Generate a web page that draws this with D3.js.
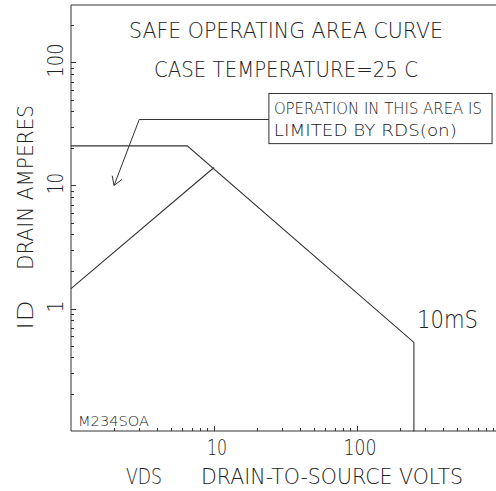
<!DOCTYPE html>
<html>
<head>
<meta charset="utf-8">
<script src="https://cdn.jsdelivr.net/npm/d3@7"></script>
<style>
  body { margin: 0; background: #fff; }
  svg text { font-family: "DejaVu Sans", sans-serif; font-weight: 200; fill: #222; }
</style>
</head>
<body>
<svg id="chart"></svg>
<script>
// SOA boundary (volts, amperes)
const soaVolts = [1, 6.5, 250, 250];
const soaAmps = [21, 21, 0.53, 0.1];
// RDS(on) limit line
const rdsVolts = [1, 10];
const rdsAmps = [1.45, 14];
// annotation leader arrow and box
const leaderVolts = [24.2, 3, 2];
const leaderAmps = [34.4, 34.4, 10];
const boxVolts = [24.2, 880];
const boxAmps = [56, 21.9];
const noteLines = ["OPERATION IN THIS AREA IS", "LIMITED BY RDS(on)"];
const xTickLabels = [10, 100];
const yTickLabels = [1, 10, 100];

const width = 496, height = 491;
const svg = d3.select("#chart").attr("width", width).attr("height", height);

const x = d3.scaleLog().domain([1, 1000]).range([71, 500]);
const y = d3.scaleLog().domain([0.1, 300]).range([431.5, 431.5 - 123 * Math.log10(3000)]);

const ink = "#333";

// frame: left, top, bottom
svg.append("line").attr("x1", 71).attr("x2", 71).attr("y1", 5).attr("y2", 431).attr("stroke", ink);
svg.append("line").attr("x1", 71).attr("x2", width).attr("y1", 5).attr("y2", 5).attr("stroke", ink);
svg.append("line").attr("x1", 71).attr("x2", width).attr("y1", 431).attr("y2", 431).attr("stroke", ink);

// minor / major ticks pointing inward
const xTicks = [];
[1, 10, 100].forEach(d => { for (let k = 1; k <= 9; k++) xTicks.push(d * k); });
svg.selectAll(".xtick").data(xTicks.filter(v => v > 1 && v < 1000)).enter()
  .append("line").attr("class", "xtick")
  .attr("x1", d => Math.round(x(d)) + 0.5).attr("x2", d => Math.round(x(d)) + 0.5)
  .attr("y1", 431).attr("y2", d => xTickLabels.includes(d) ? 426 : 428)
  .attr("stroke", ink);

const yTicks = [];
[0.1, 1, 10, 100].forEach(d => { for (let k = 1; k <= 9; k++) yTicks.push(+(d * k).toPrecision(3)); });
svg.selectAll(".ytick").data(yTicks.filter(v => v > 0.1 && v < 300)).enter()
  .append("line").attr("class", "ytick")
  .attr("y1", d => Math.round(y(d)) + 0.5).attr("y2", d => Math.round(y(d)) + 0.5)
  .attr("x1", 71).attr("x2", d => yTickLabels.includes(d) ? 76 : 74)
  .attr("stroke", ink);

// tick labels
const xLabelWidth = { 10: 20, 100: 33 };
svg.selectAll(".xlab").data(xTickLabels).enter()
  .append("text").attr("class", "xlab")
  .attr("x", d => x(d) + 3 - xLabelWidth[d] / 2).attr("y", 455)
  .attr("font-size", 21)
  .attr("textLength", d => xLabelWidth[d]).attr("lengthAdjust", "spacingAndGlyphs")
  .text(d => d);

const yLabelWidth = { 1: 12, 10: 21, 100: 34 };
svg.selectAll(".ylab").data(yTickLabels).enter()
  .append("text").attr("class", "ylab")
  .attr("transform", d => `translate(63,${y(d) - 2 + yLabelWidth[d] / 2}) rotate(-90)`)
  .attr("font-size", 21)
  .attr("textLength", d => yLabelWidth[d]).attr("lengthAdjust", "spacingAndGlyphs")
  .text(d => d);

// curves
const line = d3.line().x(d => x(d[0])).y(d => y(d[1]));
svg.append("path").datum(soaVolts.map((v, i) => [v, soaAmps[i]]))
  .attr("d", line).attr("fill", "none").attr("stroke", ink).attr("stroke-width", 1.1);
svg.append("path").datum(rdsVolts.map((v, i) => [v, rdsAmps[i]]))
  .attr("d", line).attr("fill", "none").attr("stroke", ink).attr("stroke-width", 1.1);

// annotation leader with arrow head
const leader = leaderVolts.map((v, i) => [v, leaderAmps[i]]);
svg.append("path").datum(leader).attr("d", line).attr("fill", "none").attr("stroke", ink);
const tip = [x(leader[2][0]), y(leader[2][1])];
const from = [x(leader[1][0]), y(leader[1][1])];
const ang = Math.atan2(tip[1] - from[1], tip[0] - from[0]);
[-0.55, 0.55].forEach(a => {
  svg.append("line")
    .attr("x1", tip[0]).attr("y1", tip[1])
    .attr("x2", tip[0] - 10 * Math.cos(ang + a)).attr("y2", tip[1] - 10 * Math.sin(ang + a))
    .attr("stroke", ink);
});

svg.append("rect")
  .attr("x", x(boxVolts[0])).attr("y", y(boxAmps[0]))
  .attr("width", x(boxVolts[1]) - x(boxVolts[0])).attr("height", y(boxAmps[1]) - y(boxAmps[0]))
  .attr("fill", "none").attr("stroke", ink);

const noteWidth = [208, 183];
svg.selectAll(".note").data(noteLines).enter()
  .append("text").attr("class", "note")
  .attr("x", x(boxVolts[0]) + 5).attr("y", (d, i) => 114 + i * 22)
  .attr("font-size", 16)
  .attr("textLength", (d, i) => noteWidth[i]).attr("lengthAdjust", "spacingAndGlyphs")
  .text(d => d);

// titles and labels
function label(txt, x0, y0, w, size, rot) {
  const t = svg.append("text").attr("font-size", size)
    .attr("textLength", w).attr("lengthAdjust", "spacingAndGlyphs").text(txt);
  if (rot) t.attr("transform", `translate(${x0},${y0}) rotate(-90)`);
  else t.attr("x", x0).attr("y", y0);
  return t;
}
label("SAFE OPERATING AREA CURVE", 129, 38, 314, 22);
label("CASE TEMPERATURE=25 C", 154, 77, 264, 22);
label("10mS", 417, 328, 61, 24);
label("M234SOA", 78, 426, 71, 14);
label("VDS", 126, 484, 36, 22);
label("DRAIN-TO-SOURCE VOLTS", 201, 484, 262, 22);
label("ID", 33, 330, 30, 22, true);
label("DRAIN AMPERES", 33, 270, 165, 22, true);
</script>
</body>
</html>
